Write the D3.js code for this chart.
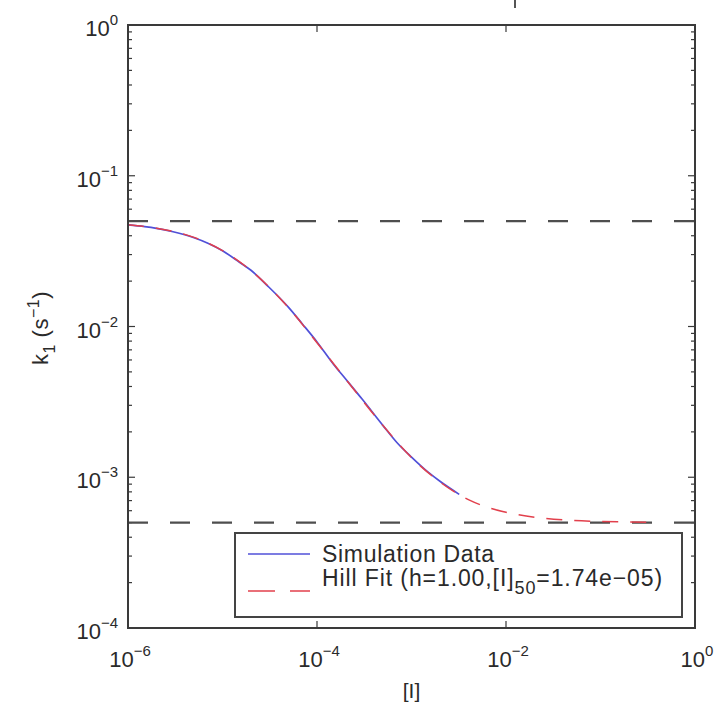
<!DOCTYPE html>
<html>
<head>
<meta charset="utf-8">
<script src="https://cdn.jsdelivr.net/npm/d3@7"></script>
<style>
  body { margin: 0; background: #fff; }
  svg { display: block; font-family: "Liberation Sans", Arial, Helvetica, sans-serif; }
</style>
</head>
<body>
<div id="chart"></div>
<script>
// values
var simX = [1e-6, 1.5e-6, 2e-6, 3e-6, 5e-6, 7e-6, 1e-5, 1.5e-5, 2e-5, 3e-5, 5e-5, 7e-5,
            1e-4, 1.5e-4, 2e-4, 3e-4, 5e-4, 7e-4, 1e-3, 1.5e-3, 2e-3, 3.2e-3];
var simY = [0.0472, 0.0460, 0.0448, 0.0425, 0.0388, 0.0357, 0.0318, 0.0268, 0.0236, 0.0186, 0.0134, 0.0104,
            0.0079, 0.0056, 0.0045, 0.0033, 0.0022, 0.0017, 0.00136, 0.00108, 0.00094, 0.00077];

var fitX = [1e-6, 2e-6, 5e-6, 1e-5, 2e-5, 5e-5, 1e-4, 2e-4, 5e-4, 1e-3, 2e-3, 4e-3, 7e-3,
            1e-2, 2e-2, 5e-2, 0.1, 0.33];
var fitY = [0.0473, 0.0449, 0.0390, 0.0319, 0.0235, 0.0133, 0.0078, 0.0045, 0.0022, 0.00135, 0.00093, 0.00071, 0.00062,
            0.000586, 0.000543, 0.000517, 0.000509, 0.000503];

var refLevels = [0.05, 5e-4];

var xTickExp = [-6, -4, -2, 0];
var yTickExp = [0, -1, -2, -3, -4];

var legendLabels = ["Simulation Data", "Hill Fit (h=1.00,[I]", "50", "=1.74e\u221205)"];

var svgWidth = 717, svgHeight = 704;
var margin = {top: 25, left: 128, right: 22, bottom: 76};
var width = svgWidth - margin.left - margin.right;
var height = svgHeight - margin.top - margin.bottom;

var svg = d3.select("#chart").append("svg")
  .attr("width", svgWidth)
  .attr("height", svgHeight);

var g = svg.append("g")
  .attr("transform", "translate(" + margin.left + "," + margin.top + ")");

var x = d3.scaleLog().domain([1e-6, 1]).range([0, width]);
var y = d3.scaleLog().domain([1e-4, 1]).range([height, 0]);

var axisColor = "#3a3a3a";

// bit of the cut-off title above the plot
svg.append("line")
  .attr("x1", 515).attr("x2", 515).attr("y1", 0).attr("y2", 8)
  .attr("stroke", "#555").attr("stroke-width", 2);

// minor y ticks
var yMinor = [];
yTickExp.slice(1).forEach(function(e) {
  for (var m = 2; m <= 9; m++) yMinor.push(m * Math.pow(10, e));
});

var ticks = g.append("g").attr("stroke", axisColor).attr("stroke-width", 1.2);
yMinor.forEach(function(v) {
  ticks.append("line").attr("x1", 0).attr("x2", 4).attr("y1", y(v)).attr("y2", y(v));
  ticks.append("line").attr("x1", width).attr("x2", width - 4).attr("y1", y(v)).attr("y2", y(v));
});
yTickExp.forEach(function(e) {
  var v = Math.pow(10, e);
  ticks.append("line").attr("x1", 0).attr("x2", 7).attr("y1", y(v)).attr("y2", y(v));
  ticks.append("line").attr("x1", width).attr("x2", width - 7).attr("y1", y(v)).attr("y2", y(v));
});
xTickExp.forEach(function(e) {
  var v = Math.pow(10, e);
  ticks.append("line").attr("x1", x(v)).attr("x2", x(v)).attr("y1", height).attr("y2", height - 7);
  ticks.append("line").attr("x1", x(v)).attr("x2", x(v)).attr("y1", 0).attr("y2", 7);
});

// reference levels
g.selectAll(".ref")
  .data(refLevels)
  .enter()
  .append("line")
  .attr("class", "ref")
  .attr("x1", 0).attr("x2", width)
  .attr("y1", function(d) { return y(d); })
  .attr("y2", function(d) { return y(d); })
  .attr("stroke", "#4e4e4e")
  .attr("stroke-width", 2.2)
  .attr("stroke-dasharray", "20,22");

var line = d3.line()
  .x(function(d) { return x(d[0]); })
  .y(function(d) { return y(d[1]); })
  .curve(d3.curveMonotoneX);

g.append("path")
  .datum(d3.zip(simX, simY))
  .attr("d", line)
  .attr("fill", "none")
  .attr("stroke", "#5050d8")
  .attr("stroke-width", 1.7);

g.append("path")
  .datum(d3.zip(fitX, fitY))
  .attr("d", line)
  .attr("fill", "none")
  .attr("stroke", "#e2404c")
  .attr("stroke-width", 1.5)
  .attr("stroke-dasharray", "16,12");

// axes box
g.append("rect")
  .attr("width", width).attr("height", height)
  .attr("fill", "none")
  .attr("stroke", axisColor)
  .attr("stroke-width", 2);

// tick labels
var labelColor = "#2a2a2a";
xTickExp.forEach(function(e) {
  var t = g.append("text")
    .attr("x", x(Math.pow(10, e)) + 2)
    .attr("y", height + 39)
    .attr("text-anchor", "middle")
    .attr("font-size", 22)
    .attr("fill", labelColor);
  t.append("tspan").text("10");
  t.append("tspan").attr("dy", -11).attr("font-size", 15).text(e === 0 ? "0" : "\u2212" + (-e));
});
yTickExp.forEach(function(e) {
  var t = g.append("text")
    .attr("x", -10)
    .attr("y", y(Math.pow(10, e)) + 11)
    .attr("text-anchor", "end")
    .attr("font-size", 22)
    .attr("fill", labelColor);
  t.append("tspan").text("10");
  t.append("tspan").attr("dy", -11).attr("font-size", 15).text(e === 0 ? "0" : "\u2212" + (-e));
});

// axis titles
svg.append("text")
  .attr("x", margin.left + width / 2)
  .attr("y", 698)
  .attr("text-anchor", "middle")
  .attr("font-size", 21)
  .attr("fill", labelColor)
  .text("[I]");

var yl = svg.append("text")
  .attr("transform", "translate(48,328) rotate(-90)")
  .attr("text-anchor", "middle")
  .attr("font-size", 22)
  .attr("letter-spacing", 0.5)
  .attr("fill", labelColor);
yl.append("tspan").text("k");
yl.append("tspan").attr("dy", 7).attr("font-size", 16).text("1");
yl.append("tspan").attr("dy", -7).text(" (s");
yl.append("tspan").attr("dy", -9).attr("font-size", 16).text("\u22121");
yl.append("tspan").attr("dy", 9).text(")");

// legend
var lg = svg.append("g");
lg.append("rect")
  .attr("x", 235).attr("y", 533)
  .attr("width", 447).attr("height", 84)
  .attr("fill", "#fff")
  .attr("stroke", "#444")
  .attr("stroke-width", 2);
lg.append("line")
  .attr("x1", 248).attr("x2", 310).attr("y1", 554).attr("y2", 554)
  .attr("stroke", "#5050d8").attr("stroke-width", 1.7);
lg.append("line")
  .attr("x1", 248).attr("x2", 310).attr("y1", 591).attr("y2", 591)
  .attr("stroke", "#e2404c").attr("stroke-width", 1.5)
  .attr("stroke-dasharray", "27,15");
lg.append("text")
  .attr("x", 322).attr("y", 562)
  .attr("font-size", 23).attr("letter-spacing", 0.7).attr("fill", labelColor)
  .text(legendLabels[0]);
var ht = lg.append("text")
  .attr("x", 322).attr("y", 586)
  .attr("font-size", 23).attr("letter-spacing", 0.9).attr("fill", labelColor);
ht.append("tspan").text(legendLabels[1]);
ht.append("tspan").attr("dy", 8).attr("font-size", 18).text(legendLabels[2]);
ht.append("tspan").attr("dy", -8).text(legendLabels[3]);
</script>
</body>
</html>
